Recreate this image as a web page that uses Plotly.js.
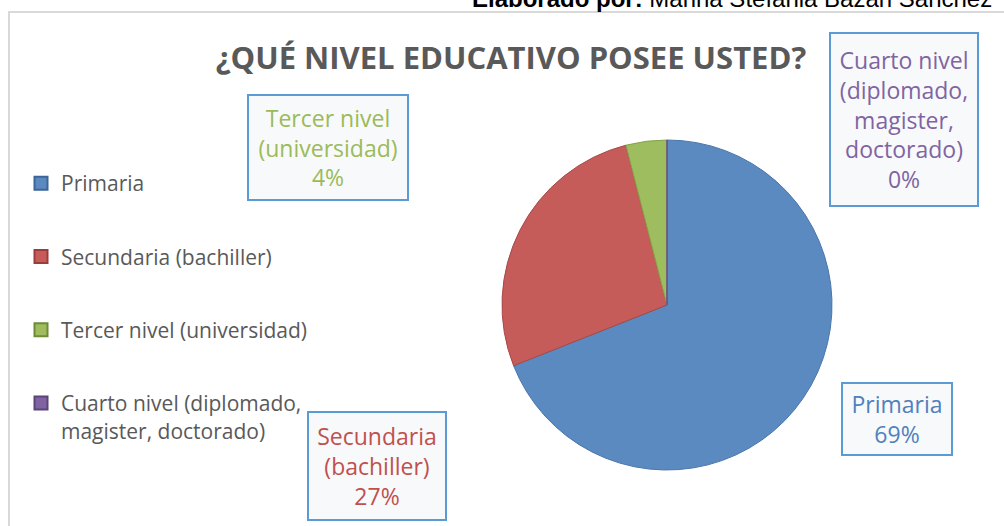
<!DOCTYPE html>
<html>
<head>
<meta charset="utf-8">
<script src="https://cdn.plot.ly/plotly-3.0.1.min.js"></script>
<style>html,body{margin:0;padding:0;background:#fff;}#chart{width:1004px;height:526px;}</style>
</head>
<body>
<div id="chart"></div>
<script>
// ---- data ----
const categories = ['Primaria', 'Secundaria (bachiller)', 'Tercer nivel (universidad)', 'Cuarto nivel (diplomado, magister, doctorado)'];
const percentages = [69, 27, 4, 0];
const legendLabels = ['Primaria', 'Secundaria (bachiller)', 'Tercer nivel (universidad)', 'Cuarto nivel (diplomado,<br>magister, doctorado)'];
const calloutLabels = ['Primaria', 'Secundaria<br>(bachiller)', 'Tercer nivel<br>(universidad)', 'Cuarto nivel<br>(diplomado,<br>magister,<br>doctorado)'];
const chartTitle = '¿QUÉ NIVEL EDUCATIVO POSEE USTED?';
const authorNote = '<b>Elaborado por:</b> Marina Stefania Bazán Sánchez';

// ---- styles ----
const sliceColors = ['#5b8ac0', '#c55c5a', '#9dbd5e', '#8064a2'];
const sliceEdges = ['#4a76ab', '#a84846', '#84a347', '#654d85'];
const legendEdges = ['#3c6599', '#9c3b39', '#6f8c35', '#5a4478'];
const labelColors = ['#4f81bd', '#c0504d', '#9bbb59', '#8064a2'];
const W = 1004, H = 526;
const px = x => x / W;
const py = y => 1 - y / H;

// callout box geometry (pixels): center x, center y, width, height
const calloutBoxes = [
  [897, 419, 108, 70],
  [377, 466, 136, 106],
  [328, 147, 158, 103],
  [904, 120, 146, 171]
];

const traces = [{
  type: 'pie',
  labels: categories,
  values: percentages,
  sort: false,
  direction: 'clockwise',
  rotation: 0,
  textinfo: 'none',
  hoverinfo: 'label+percent',
  showlegend: false,
  marker: { colors: sliceColors, line: { color: sliceEdges, width: 1 } },
  domain: { x: [px(502), px(832)], y: [py(470), py(140)] }
}];

// legend entries (one per category)
categories.forEach((c, i) => {
  traces.push({
    type: 'scatter',
    mode: 'markers',
    x: [null], y: [null],
    name: legendLabels[i],
    legendgroup: 'g' + i,
    showlegend: true,
    hoverinfo: 'skip',
    marker: { symbol: 'square', size: 13, color: sliceColors[i], line: { color: legendEdges[i], width: 2 } }
  });
});

const annotations = categories.map((c, i) => {
  const b = calloutBoxes[i];
  return {
    xref: 'paper', yref: 'paper',
    x: px(b[0]), y: py(b[1]),
    xanchor: 'center', yanchor: 'middle',
    showarrow: false,
    text: calloutLabels[i] + '<br>' + percentages[i] + '%',
    align: 'center',
    font: { family: 'Open Sans', size: 23, color: labelColors[i] },
    bgcolor: '#f8f9fb',
    bordercolor: '#5b9bd5',
    borderwidth: 2,
    borderpad: 0,
    width: b[2], height: b[3]
  };
});

annotations.push({
  xref: 'paper', yref: 'paper',
  x: px(470), y: py(14),
  xanchor: 'left', yanchor: 'bottom',
  showarrow: false,
  text: authorNote,
  font: { family: 'Liberation Sans', size: 24, color: '#000' }
});

const layout = {
  width: W, height: H,
  margin: { l: 0, r: 0, t: 0, b: 0 },
  paper_bgcolor: '#fff',
  plot_bgcolor: '#fff',
  title: {
    text: chartTitle,
    x: px(511), y: py(58), xanchor: 'center', yanchor: 'middle',
    font: { family: 'Open Sans', size: 31, color: '#595959', weight: 700 }
  },
  xaxis: { visible: false, domain: [0, 0.01] },
  yaxis: { visible: false, domain: [0, 0.01] },
  showlegend: true,
  legend: {
    x: px(21), y: py(163), xanchor: 'left', yanchor: 'top',
    font: { family: 'Open Sans', size: 21, color: '#595959' },
    tracegroupgap: 43,
    valign: 'top',
    itemclick: false, itemdoubleclick: false,
    bgcolor: 'rgba(0,0,0,0)'
  },
  shapes: [{
    type: 'rect', xref: 'paper', yref: 'paper',
    x0: px(9), x1: px(1012), y0: py(534), y1: py(12),
    line: { color: '#d9d9d9', width: 2 }, fillcolor: 'rgba(0,0,0,0)', layer: 'below'
  }],
  annotations: annotations
};

Plotly.newPlot('chart', traces, layout, { staticPlot: true, displayModeBar: false });
</script>
</body>
</html>
